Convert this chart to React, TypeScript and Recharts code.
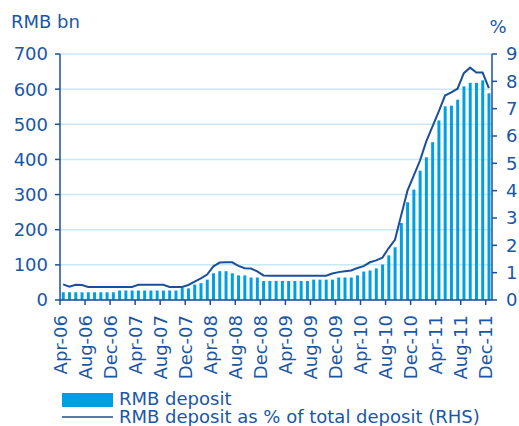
import React from 'react';
import { ComposedChart, Bar, Line, XAxis, YAxis, CartesianGrid, Legend } from 'recharts';

const BAR_BLUE = '#009fe3';
const LINE_BLUE = '#1b4f9c';
const TEXT_BLUE = '#1a56a6';
const GRID = '#c8e8f6';
const FONT = 'DejaVu Sans, sans-serif';

const MONTHS = ['Jan', 'Feb', 'Mar', 'Apr', 'May', 'Jun', 'Jul', 'Aug', 'Sep', 'Oct', 'Nov', 'Dec'];
const YEARS = ['06', '07', '08', '09', '10', '11'];

// Apr-06 .. Dec-11
const categories: string[] = [];
YEARS.forEach((yy, yi) => {
  MONTHS.forEach((m, mi) => {
    if (yi === 0 && mi < 3) return;
    categories.push(`${m}-${yy}`);
  });
});

// RMB deposit, RMB bn
const deposit = [
  22, 22, 22, 22, 22, 22, 22, 22, 22,
  27, 27, 27, 27, 27, 27, 27, 27, 27, 27,
  34, 33, 44, 48, 58, 76, 82, 82, 76, 70, 70, 64, 64,
  54, 54, 54, 54, 54, 54, 54, 54,
  58, 58, 58, 58,
  64, 64, 64,
  70, 81, 84, 90, 101, 127, 150, 219, 278, 314, 368, 406, 449, 511, 551, 553, 570, 608, 618, 618, 625, 588,
];

// RMB deposit as % of total deposit (RHS)
const share = [
  0.57, 0.49, 0.56, 0.55,
  0.48, 0.48, 0.48, 0.48, 0.48, 0.48, 0.48, 0.48,
  0.56, 0.56, 0.56, 0.56, 0.56,
  0.48, 0.48, 0.48,
  0.55, 0.67, 0.79, 0.93, 1.23, 1.37, 1.38, 1.38, 1.25, 1.16, 1.15, 1.05, 0.9,
  0.89, 0.89, 0.89, 0.89, 0.89, 0.89, 0.89, 0.89, 0.89, 0.89,
  0.97, 1.02, 1.05, 1.08, 1.17, 1.24, 1.38, 1.45, 1.55, 1.9, 2.2, 3.1, 4.0, 4.55,
  5.1, 5.8, 6.35, 6.9, 7.48, 7.6, 7.73, 8.3, 8.5, 8.32, 8.32, 7.75,
];

const leftTicks = [0, 100, 200, 300, 400, 500, 600, 700];
const rightTicks = [0, 1, 2, 3, 4, 5, 6, 7, 8, 9];

const data = categories.map((month, i) => ({ month, deposit: deposit[i], share: share[i] }));

// half a month band: tick marks sit on the boundary before each labelled month
const HALF_BAND = 432 / 69 / 2;

function MonthTick(props: any) {
  const { x, y, payload } = props;
  return (
    <g>
      <line x1={x - HALF_BAND} x2={x - HALF_BAND} y1={y} y2={y + 5} stroke={LINE_BLUE} strokeWidth={1.5} />
      <g transform={`translate(${x + 3.5},${y + 15})`}>
        <g transform="rotate(-90)">
          <text x={0} y={0} textAnchor="end" fill={TEXT_BLUE} fontSize={18} fontFamily={FONT}>
            {payload.value}
          </text>
        </g>
      </g>
    </g>
  );
}

function LegendBox() {
  return (
    <svg width={519} height={40} style={{ display: 'block' }}>
      <rect x={62} y={7} width={51} height={14} fill={BAR_BLUE} />
      <text x={119} y={19} fill={TEXT_BLUE} fontSize={18} fontFamily={FONT}>RMB deposit</text>
      <line x1={62} x2={113} y1={31} y2={31} stroke={LINE_BLUE} strokeWidth={1.5} />
      <text x={119} y={37} fill={TEXT_BLUE} fontSize={18} fontFamily={FONT}>RMB deposit as % of total deposit (RHS)</text>
    </svg>
  );
}

export default function App() {
  const tickStyle = { fill: TEXT_BLUE, fontSize: 18, fontFamily: FONT };
  return (
    <div style={{ position: 'absolute', left: 0, top: 0, width: 519, height: 426, background: '#fff', fontFamily: FONT }}>
      <ComposedChart
        width={519}
        height={426}
        data={data}
        margin={{ top: 54, right: 0, bottom: 42, left: 0 }}
        barCategoryGap="28%"
      >
        <CartesianGrid yAxisId="left" vertical={false} stroke={GRID} strokeWidth={1.5} />
        <XAxis
          dataKey="month"
          interval={3}
          height={84}
          tickSize={0}
          tickMargin={0}
          tickLine={false}
          stroke={LINE_BLUE}
          axisLine={{ stroke: LINE_BLUE, strokeWidth: 1.5 }}
          tick={MonthTick}
        />
        <YAxis
          yAxisId="left"
          width={60}
          domain={[0, 700]}
          ticks={leftTicks}
          interval={0}
          tickSize={5}
          tickMargin={7}
          tick={tickStyle}
          tickLine={{ stroke: LINE_BLUE, strokeWidth: 1.5 }}
          axisLine={{ stroke: LINE_BLUE, strokeWidth: 1.5 }}
          label={() => (
            <text x={11} y={28} fill={TEXT_BLUE} fontSize={18} fontFamily={FONT}>RMB bn</text>
          )}
        />
        <YAxis
          yAxisId="right"
          orientation="right"
          width={27}
          domain={[0, 9]}
          ticks={rightTicks}
          interval={0}
          tickSize={5}
          tickMargin={9}
          tick={tickStyle}
          tickLine={{ stroke: LINE_BLUE, strokeWidth: 1.5 }}
          axisLine={{ stroke: LINE_BLUE, strokeWidth: 1.5 }}
          label={() => (
            <text x={498} y={33} textAnchor="middle" fill={TEXT_BLUE} fontSize={18} fontFamily={FONT}>%</text>
          )}
        />
        <Bar yAxisId="left" dataKey="deposit" fill={BAR_BLUE} isAnimationActive={false} />
        <Line
          yAxisId="right"
          dataKey="share"
          type="linear"
          stroke={LINE_BLUE}
          strokeWidth={2}
          dot={false}
          activeDot={false}
          isAnimationActive={false}
        />
        <Legend
          layout="vertical"
          align="center"
          verticalAlign="middle"
          content={<LegendBox />}
          wrapperStyle={{ position: 'absolute', left: 0, top: 386, width: 519, height: 40 }}
        />
      </ComposedChart>
    </div>
  );
}
